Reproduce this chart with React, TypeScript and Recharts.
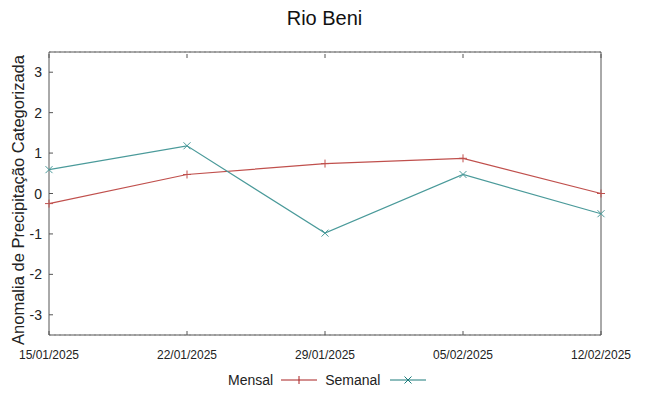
import React from 'react';
import { LineChart, Line, XAxis, YAxis, CartesianGrid } from 'recharts';

const dates = ['15/01/2025', '22/01/2025', '29/01/2025', '05/02/2025', '12/02/2025'];
const mensal = [-0.25, 0.47, 0.74, 0.87, 0.0];
const semanal = [0.59, 1.18, -0.98, 0.47, -0.5];
const yTicks = [-3, -2, -1, 0, 1, 2, 3];

const data = dates.map((d, i) => ({ date: d, mensal: mensal[i], semanal: semanal[i] }));

const AXIS = '#555555';
const RED = '#c0504d';
const TEAL = '#4a9a9a';
const FONT = '"Liberation Sans", Arial, sans-serif';

const LeftTick = (props: any) => {
    const { x, y, payload } = props;
    return (
        <g>
            <line x1={x + 7} x2={x + 11} y1={y} y2={y} stroke={AXIS} />
            <text x={x} y={y + 5} textAnchor="end" fontSize={14} fontFamily={FONT} fill="#222">
                {payload.value}
            </text>
        </g>
    );
};

const BottomTick = (props: any) => {
    const { x, y, payload } = props;
    return (
        <g>
            <line x1={x} x2={x} y1={y - 14} y2={y - 18} stroke={AXIS} />
            <text x={x} y={y + 10} textAnchor="middle" fontSize={12} fontFamily='"Liberation Sans Narrow", "Liberation Sans", sans-serif' fill="#222">
                {payload.value}
            </text>
        </g>
    );
};

const TopTick = (props: any) => {
    const { x, y } = props;
    return <line x1={x} x2={x} y1={y} y2={y + 4} stroke={AXIS} />;
};

const PlusDot = (props: any) => {
    const { cx, cy } = props;
    if (cx == null || cy == null) return null;
    return (
        <g stroke={RED} strokeWidth={1}>
            <line x1={cx - 4} x2={cx + 4} y1={cy} y2={cy} />
            <line x1={cx} x2={cx} y1={cy - 4} y2={cy + 4} />
        </g>
    );
};

const CrossDot = (props: any) => {
    const { cx, cy } = props;
    if (cx == null || cy == null) return null;
    return (
        <g stroke={TEAL} strokeWidth={1}>
            <line x1={cx - 3.5} x2={cx + 3.5} y1={cy - 3.5} y2={cy + 3.5} />
            <line x1={cx - 3.5} x2={cx + 3.5} y1={cy + 3.5} y2={cy - 3.5} />
        </g>
    );
};

export default function App() {
    return (
        <div style={{ position: 'absolute', left: 0, top: 0, width: 649, height: 396, background: '#fff', fontFamily: FONT }}>
            <div style={{ position: 'absolute', top: 7, width: 649, textAlign: 'center', fontSize: 20, color: '#111' }}>
                Rio Beni
            </div>
            <div
                style={{
                    position: 'absolute', left: 18, top: 200, fontSize: 16.5, color: '#222', whiteSpace: 'nowrap',
                    transform: 'translate(-50%, -50%) rotate(-90deg)',
                }}
            >
                Anomalia de Precipitação Categorizada
            </div>
            <LineChart width={649} height={396} data={data} margin={{ top: 52, right: 48, left: 19, bottom: 31 }}>
                <CartesianGrid vertical={false} stroke="#bbbbbb" strokeDasharray="2 3" />
                <XAxis
                    xAxisId="b"
                    dataKey="date"
                    height={30}
                    stroke={AXIS}
                    tickSize={0}
                    tickMargin={14}
                    tick={<BottomTick />}
                    interval={0}
                />
                <XAxis
                    xAxisId="t"
                    dataKey="date"
                    orientation="top"
                    height={30}
                    stroke={AXIS}
                    tickSize={0}
                    tick={<TopTick />}
                    interval={0}
                    mirror
                />
                <YAxis
                    yAxisId="l"
                    domain={[-3.5, 3.5]}
                    ticks={yTicks}
                    width={30}
                    stroke={AXIS}
                    tickSize={0}
                    tickMargin={7}
                    tick={<LeftTick />}
                    interval={0}
                />
                <YAxis
                    yAxisId="r"
                    orientation="right"
                    domain={[-3.5, 3.5]}
                    ticks={yTicks}
                    width={30}
                    stroke={AXIS}
                    tickSize={4}
                    tick={false}
                    mirror
                />
                <Line xAxisId="b" yAxisId="l" dataKey="mensal" stroke={RED} strokeWidth={1.2} dot={<PlusDot />} activeDot={false} isAnimationActive={false} />
                <Line xAxisId="b" yAxisId="l" dataKey="semanal" stroke={TEAL} strokeWidth={1.2} dot={<CrossDot />} activeDot={false} isAnimationActive={false} />
            </LineChart>
            <div style={{ position: 'absolute', top: 372, left: 228, display: 'flex', alignItems: 'center', fontSize: 14, color: '#222' }}>
                <span>Mensal</span>
                <svg width={44} height={14} style={{ marginLeft: 4 }}>
                    <line x1={4} x2={40} y1={7} y2={7} stroke="#a82020" />
                    <line x1={22} x2={22} y1={3} y2={11} stroke="#a82020" />
                </svg>
                <span style={{ marginLeft: 4 }}>Semanal</span>
                <svg width={44} height={14} style={{ marginLeft: 4 }}>
                    <line x1={6} x2={42} y1={7} y2={7} stroke="#1a7a7a" />
                    <line x1={20.5} x2={27.5} y1={3.5} y2={10.5} stroke="#1a7a7a" />
                    <line x1={20.5} x2={27.5} y1={10.5} y2={3.5} stroke="#1a7a7a" />
                </svg>
            </div>
        </div>
    );
}
